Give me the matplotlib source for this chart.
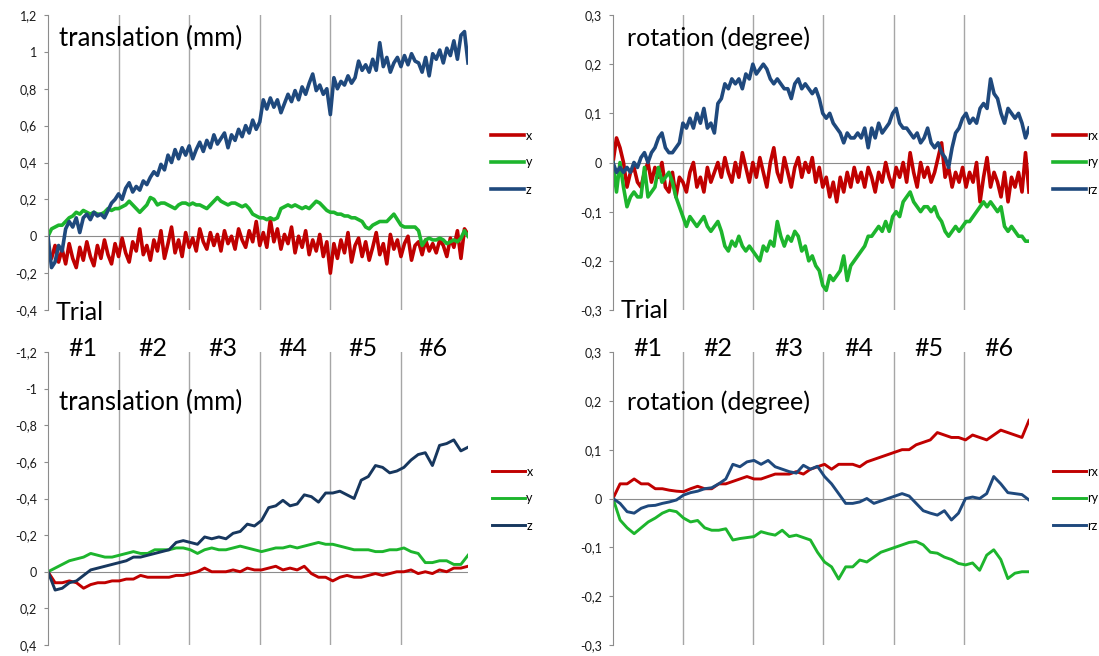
import numpy as np
import matplotlib
matplotlib.use("Agg")
import matplotlib.pyplot as plt
from matplotlib.ticker import FuncFormatter, MultipleLocator

plt.rcParams["font.family"] = ["Lato", "DejaVu Sans"]

W, H = 1099, 656

# ---- data (x in units of one trial block) ----
# top-left: translation (mm), 120 samples over 0 .. 5.95
tl_x = [
    -0.08, -0.12, -0.05, -0.14, -0.07, -0.15, -0.04, -0.12, -0.17, -0.06,
    -0.13, -0.03, -0.11, -0.16, -0.05, -0.12, -0.02, -0.10, -0.15, -0.04,
    -0.11, -0.01, -0.09, -0.14, -0.03, -0.08, 0.04, -0.10, -0.05, -0.13,
    -0.02, -0.08, 0.03, -0.12, -0.04, 0.05, -0.09, -0.02, -0.11, 0.02,
    -0.06, -0.01, -0.08, 0.04, -0.03, -0.07, 0.02, -0.05, 0.01, -0.08,
    0.03, -0.04, 0.00, -0.07, 0.04, -0.02, -0.06, 0.03, -0.03, 0.08,
    -0.05, 0.02, -0.06, 0.09, -0.03, 0.04, -0.07, 0.01, -0.04, 0.05,
    -0.09, 0.00, -0.06, 0.03, -0.10, -0.02, -0.08, 0.01, -0.11, -0.03,
    -0.20, -0.04, -0.12, -0.02, -0.09, 0.02, -0.14, -0.05, -0.01, -0.11,
    -0.03, -0.13, -0.06, 0.02, -0.10, -0.04, -0.15, 0.01, -0.07, -0.02,
    -0.11, -0.04, 0.00, -0.13, -0.05, -0.03, -0.10, -0.02, -0.08, -0.04,
    -0.09, -0.02, -0.05, -0.11, -0.01, -0.06, 0.03, -0.12, 0.04, 0.01,
]
tl_y = [
    0.00, 0.04, 0.05, 0.06, 0.06, 0.08, 0.10, 0.11, 0.13, 0.12,
    0.14, 0.13, 0.12, 0.13, 0.12, 0.12, 0.13, 0.15, 0.14, 0.15,
    0.15, 0.16, 0.17, 0.19, 0.17, 0.15, 0.13, 0.15, 0.17, 0.21,
    0.20, 0.17, 0.18, 0.18, 0.17, 0.16, 0.15, 0.17, 0.18, 0.18,
    0.17, 0.18, 0.17, 0.17, 0.16, 0.15, 0.17, 0.19, 0.21, 0.19,
    0.18, 0.17, 0.18, 0.18, 0.17, 0.16, 0.17, 0.15, 0.12, 0.11,
    0.10, 0.10, 0.09, 0.10, 0.09, 0.10, 0.15, 0.16, 0.17, 0.16,
    0.17, 0.16, 0.15, 0.16, 0.15, 0.17, 0.19, 0.18, 0.16, 0.14,
    0.13, 0.13, 0.12, 0.12, 0.11, 0.11, 0.10, 0.10, 0.09, 0.08,
    0.05, 0.04, 0.06, 0.07, 0.08, 0.08, 0.08, 0.10, 0.12, 0.09,
    0.06, 0.05, 0.05, 0.05, 0.05, 0.03, -0.05, -0.02, -0.01, -0.02,
    -0.02, -0.01, -0.02, -0.04, -0.03, -0.02, -0.03, -0.01, 0.03, 0.00,
]
tl_z = [
    0.00, -0.17, -0.14, -0.05, -0.08, 0.04, 0.08, 0.05, 0.10, 0.02,
    0.10, 0.12, 0.09, 0.13, 0.11, 0.12, 0.10, 0.14, 0.18, 0.20,
    0.23, 0.20, 0.26, 0.29, 0.24, 0.27, 0.25, 0.30, 0.28, 0.32,
    0.35, 0.33, 0.39, 0.36, 0.44, 0.40, 0.47, 0.42, 0.48, 0.44,
    0.49, 0.42, 0.47, 0.51, 0.46, 0.52, 0.48, 0.55, 0.50, 0.53,
    0.56, 0.48, 0.55, 0.52, 0.58, 0.54, 0.60, 0.56, 0.63, 0.58,
    0.62, 0.74, 0.69, 0.75, 0.70, 0.74, 0.67, 0.72, 0.77, 0.73,
    0.79, 0.74, 0.81, 0.77, 0.83, 0.88, 0.79, 0.82, 0.77, 0.80,
    0.66, 0.86, 0.80, 0.84, 0.82, 0.87, 0.83, 0.86, 0.95, 0.90,
    0.93, 0.89, 0.96, 0.90, 1.05, 0.92, 0.97, 0.89, 0.94, 0.97,
    0.92, 0.98, 0.93, 0.99, 0.95, 0.94, 0.89, 0.97, 0.87, 0.99,
    0.96, 1.01, 0.94, 1.02, 0.98, 1.06, 0.96, 1.09, 1.11, 0.94,
]

# top-right: rotation (degree), 120 samples over 0 .. 5.93
tr_rx = [
    0.00, 0.05, 0.03, 0.00, -0.05, -0.02, -0.01, -0.04, -0.05, -0.02,
    0.00, -0.04, -0.01, -0.03, 0.00, -0.05, -0.06, -0.02, -0.07, -0.03,
    -0.04, -0.06, -0.02, 0.00, -0.05, -0.03, -0.06, -0.01, -0.04, -0.02,
    0.00, -0.03, 0.01, -0.02, -0.04, 0.00, -0.03, 0.02, -0.01, -0.04,
    0.00, -0.03, 0.01, -0.02, -0.05, 0.00, 0.03, -0.02, -0.04, 0.01,
    -0.02, -0.05, -0.01, 0.01, -0.03, 0.00, -0.02, 0.01, -0.04, -0.01,
    -0.05, -0.03, -0.07, -0.04, -0.08, -0.03, -0.06, -0.02, -0.05, -0.01,
    -0.04, -0.02, -0.05, -0.01, -0.03, -0.06, -0.02, -0.04, 0.00, -0.03,
    -0.05, -0.01, -0.03, 0.00, -0.04, 0.02, -0.02, -0.05, 0.00, -0.03,
    -0.01, -0.04, -0.02, 0.01, 0.04, -0.03, -0.01, -0.05, -0.02, -0.04,
    -0.01, -0.05, -0.02, -0.04, 0.00, -0.08, -0.03, 0.01, -0.05, -0.02,
    -0.04, -0.07, -0.02, -0.08, -0.03, -0.05, -0.02, -0.06, 0.02, -0.06,
]
tr_ry = [
    0.00, -0.06, 0.00, -0.05, -0.09, -0.07, -0.06, -0.07, -0.07, -0.01,
    -0.07, -0.06, -0.05, -0.01, -0.04, -0.03, -0.02, -0.04, -0.07, -0.09,
    -0.11, -0.13, -0.11, -0.12, -0.13, -0.12, -0.11, -0.13, -0.14, -0.13,
    -0.12, -0.14, -0.17, -0.18, -0.16, -0.17, -0.15, -0.17, -0.18, -0.17,
    -0.18, -0.19, -0.20, -0.17, -0.18, -0.16, -0.17, -0.12, -0.15, -0.17,
    -0.15, -0.16, -0.14, -0.15, -0.18, -0.17, -0.20, -0.19, -0.21, -0.22,
    -0.25, -0.26, -0.23, -0.24, -0.23, -0.22, -0.19, -0.24, -0.21, -0.20,
    -0.19, -0.18, -0.17, -0.15, -0.15, -0.14, -0.13, -0.14, -0.12, -0.14,
    -0.11, -0.10, -0.11, -0.08, -0.07, -0.06, -0.08, -0.09, -0.10, -0.09,
    -0.09, -0.10, -0.09, -0.11, -0.12, -0.14, -0.15, -0.14, -0.13, -0.14,
    -0.13, -0.12, -0.12, -0.11, -0.10, -0.09, -0.08, -0.09, -0.08, -0.09,
    -0.10, -0.09, -0.13, -0.14, -0.13, -0.14, -0.15, -0.15, -0.16, -0.16,
]
tr_rz = [
    0.00, -0.02, -0.01, -0.02, -0.01, -0.02, 0.00, -0.01, 0.01, 0.02,
    0.00, 0.02, 0.03, 0.05, 0.06, 0.03, 0.02, 0.02, 0.03, 0.04,
    0.08, 0.07, 0.09, 0.07, 0.10, 0.08, 0.11, 0.07, 0.08, 0.06,
    0.12, 0.13, 0.16, 0.15, 0.17, 0.16, 0.17, 0.15, 0.18, 0.17,
    0.20, 0.18, 0.19, 0.20, 0.19, 0.17, 0.16, 0.17, 0.16, 0.15,
    0.15, 0.13, 0.16, 0.17, 0.15, 0.16, 0.15, 0.14, 0.15, 0.13,
    0.10, 0.09, 0.10, 0.08, 0.07, 0.06, 0.04, 0.06, 0.05, 0.05,
    0.06, 0.05, 0.07, 0.03, 0.07, 0.05, 0.08, 0.06, 0.07, 0.08,
    0.10, 0.11, 0.08, 0.07, 0.07, 0.06, 0.05, 0.06, 0.04, 0.05,
    0.07, 0.04, 0.03, 0.04, 0.02, 0.01, -0.01, 0.03, 0.06, 0.07,
    0.09, 0.10, 0.08, 0.09, 0.08, 0.11, 0.12, 0.11, 0.17, 0.14,
    0.13, 0.10, 0.08, 0.11, 0.10, 0.09, 0.10, 0.08, 0.05, 0.07,
]

# bottom-left: translation (mm), inverted axis, 60 samples over 0 .. 5.95
bl_x = [
    0.00, 0.06, 0.06, 0.05, 0.06, 0.09, 0.07, 0.06, 0.06, 0.05,
    0.05, 0.04, 0.04, 0.02, 0.03, 0.03, 0.03, 0.03, 0.02, 0.02,
    0.01, 0.00, -0.02, 0.00, 0.00, 0.00, -0.01, 0.00, -0.02, -0.01,
    -0.01, -0.02, -0.03, -0.01, -0.02, -0.01, -0.03, 0.01, 0.03, 0.03,
    0.05, 0.03, 0.02, 0.03, 0.03, 0.02, 0.01, 0.02, 0.01, 0.00,
    0.00, -0.01, 0.01, 0.00, 0.01, -0.01, 0.00, -0.02, -0.02, -0.03,
]
bl_y = [
    0.00, -0.02, -0.04, -0.06, -0.07, -0.08, -0.10, -0.09, -0.08, -0.08,
    -0.09, -0.10, -0.11, -0.10, -0.10, -0.12, -0.12, -0.12, -0.13, -0.13,
    -0.12, -0.10, -0.12, -0.13, -0.12, -0.12, -0.13, -0.14, -0.13, -0.12,
    -0.11, -0.12, -0.13, -0.13, -0.14, -0.13, -0.14, -0.15, -0.16, -0.15,
    -0.15, -0.14, -0.13, -0.12, -0.12, -0.12, -0.11, -0.11, -0.12, -0.12,
    -0.13, -0.11, -0.10, -0.05, -0.05, -0.06, -0.06, -0.04, -0.04, -0.09,
]
bl_z = [
    0.00, 0.10, 0.09, 0.06, 0.05, 0.02, -0.01, -0.02, -0.03, -0.04,
    -0.05, -0.06, -0.08, -0.08, -0.09, -0.10, -0.11, -0.12, -0.16, -0.17,
    -0.16, -0.15, -0.19, -0.18, -0.19, -0.18, -0.21, -0.22, -0.26, -0.25,
    -0.28, -0.35, -0.36, -0.39, -0.36, -0.37, -0.42, -0.41, -0.38, -0.43,
    -0.43, -0.44, -0.42, -0.40, -0.50, -0.52, -0.58, -0.57, -0.54, -0.55,
    -0.57, -0.61, -0.64, -0.65, -0.58, -0.69, -0.70, -0.72, -0.66, -0.68,
]

# bottom-right: rotation (degree), 60 samples over 0 .. 5.93
br_rx = [
    0.00, 0.03, 0.03, 0.04, 0.03, 0.03, 0.02, 0.02, 0.017, 0.015,
    0.014, 0.02, 0.025, 0.02, 0.02, 0.03, 0.03, 0.035, 0.04, 0.045,
    0.04, 0.04, 0.045, 0.05, 0.05, 0.05, 0.055, 0.05, 0.06, 0.065,
    0.07, 0.06, 0.07, 0.07, 0.07, 0.065, 0.075, 0.08, 0.085, 0.09,
    0.095, 0.10, 0.10, 0.11, 0.115, 0.12, 0.135, 0.13, 0.125, 0.125,
    0.12, 0.13, 0.125, 0.12, 0.13, 0.14, 0.135, 0.13, 0.125, 0.16,
]
br_ry = [
    0.00, -0.044, -0.06, -0.072, -0.06, -0.048, -0.04, -0.03, -0.024, -0.027,
    -0.04, -0.048, -0.045, -0.06, -0.065, -0.065, -0.062, -0.085, -0.082, -0.08,
    -0.078, -0.068, -0.072, -0.075, -0.065, -0.078, -0.075, -0.08, -0.085, -0.11,
    -0.13, -0.14, -0.165, -0.14, -0.14, -0.126, -0.13, -0.12, -0.11, -0.105,
    -0.10, -0.095, -0.09, -0.088, -0.095, -0.11, -0.112, -0.12, -0.125, -0.133,
    -0.136, -0.132, -0.147, -0.116, -0.105, -0.125, -0.164, -0.153, -0.15, -0.15,
]
br_rz = [
    0.00, -0.01, -0.027, -0.03, -0.02, -0.015, -0.014, -0.01, -0.007, -0.003,
    0.007, 0.012, 0.015, 0.02, 0.022, 0.03, 0.04, 0.07, 0.065, 0.075,
    0.078, 0.07, 0.078, 0.065, 0.06, 0.055, 0.052, 0.068, 0.06, 0.066,
    0.045, 0.03, 0.01, -0.01, -0.01, -0.007, 0.00, -0.01, -0.005, 0.00,
    0.005, 0.01, 0.005, -0.01, -0.025, -0.03, -0.034, -0.025, -0.044, -0.03,
    0.00, 0.003, 0.00, 0.01, 0.045, 0.03, 0.012, 0.01, 0.008, -0.003,
]

trials = ["#1", "#2", "#3", "#4", "#5", "#6"]
trans_labels = ["x", "y", "z"]
rot_labels = ["rx", "ry", "rz"]

RED = "#C00000"
GREEN = "#1DB52D"
BLUE = "#1F497D"
NAVY = "#17375E"
AXGRAY = "#8C8C8C"


def comma_fmt(v, _pos):
    v = round(v, 3)
    if v == 0:
        return "0"
    return f"{v:g}".replace(".", ",")


def make_ax(left, top, right, bottom):
    # pixel box -> figure fraction
    return fig.add_axes([left / W, 1 - bottom / H, (right - left) / W, (bottom - top) / H])


def style(ax, xmax, ylim, step):
    ax.set_xlim(0, xmax)
    ax.set_ylim(*ylim)
    for s in ["top", "right", "bottom"]:
        ax.spines[s].set_visible(False)
    ax.spines["left"].set_color(AXGRAY)
    ax.spines["left"].set_linewidth(0.8)
    ax.set_xticks([])
    ax.yaxis.set_major_locator(MultipleLocator(step))
    ax.yaxis.set_major_formatter(FuncFormatter(comma_fmt))
    ax.tick_params(axis="y", direction="out", length=3, width=0.8, color=AXGRAY,
                   labelsize=9, pad=5, labelcolor="#1a1a1a")
    for g in range(1, 6):
        ax.axvline(g, color="#A6A6A6", lw=1.0, zorder=0)
    ax.axhline(0, color=AXGRAY, lw=0.8, zorder=1)


def legend(ax, x_anchor):
    ax.legend(loc="center left", bbox_to_anchor=(x_anchor, 0.5), frameon=False,
              fontsize=9, handlelength=2.6, handletextpad=0.15, labelspacing=1.2,
              borderpad=0, borderaxespad=0)


fig = plt.figure(figsize=(W / 100, H / 100), dpi=100)

# top-left
ax = make_ax(48, 15, 468, 310)
xs = np.linspace(0, 5.95, len(tl_x))
ax.plot(xs, tl_x, color=RED, lw=2.6, label=trans_labels[0])
ax.plot(xs, tl_y, color=GREEN, lw=2.6, label=trans_labels[1])
ax.plot(xs, tl_z, color=BLUE, lw=2.6, label=trans_labels[2])
style(ax, 5.95, (-0.4, 1.2), 0.2)
legend(ax, (491 - 48) / 420)

# top-right
ax = make_ax(613, 15, 1029, 310)
xs = np.linspace(0, 5.93, len(tr_rx))
ax.plot(xs, tr_rx, color=RED, lw=2.6, label=rot_labels[0])
ax.plot(xs, tr_ry, color=GREEN, lw=2.6, label=rot_labels[1])
ax.plot(xs, tr_rz, color=BLUE, lw=2.6, label=rot_labels[2])
style(ax, 5.93, (-0.3, 0.3), 0.1)
legend(ax, (1053 - 613) / 416)

# bottom-left (inverted)
ax = make_ax(48, 352, 468, 645)
xs = np.linspace(0, 5.95, len(bl_x))
ax.plot(xs, bl_x, color=RED, lw=2.1, label=trans_labels[0])
ax.plot(xs, bl_y, color=GREEN, lw=2.1, label=trans_labels[1])
ax.plot(xs, bl_z, color=NAVY, lw=2.1, label=trans_labels[2])
style(ax, 5.95, (0.4, -1.2), 0.2)
legend(ax, (492 - 48) / 420)

# bottom-right
ax = make_ax(613, 352, 1029, 645)
xs = np.linspace(0, 5.93, len(br_rx))
ax.plot(xs, br_rx, color=RED, lw=2.1, label=rot_labels[0])
ax.plot(xs, br_ry, color=GREEN, lw=2.1, label=rot_labels[1])
ax.plot(xs, br_rz, color=BLUE, lw=2.1, label=rot_labels[2])
style(ax, 5.93, (-0.3, 0.3), 0.1)
legend(ax, (1053 - 613) / 416)


def ftext(x, y, s, size, **kw):
    fig.text(x / W, 1 - y / H, s, fontsize=size, va="center", ha="left", color="black", **kw)


ftext(59, 38, "translation (mm)", 18.5)
ftext(627, 38, "rotation (degree)", 18)
ftext(59, 402, "translation (mm)", 18.5)
ftext(627, 402, "rotation (degree)", 18)
ftext(56, 313, "Trial", 18)
ftext(621, 311, "Trial", 18)

# trial numbers centred in each block
for x0, step in [(48, 70.0), (613, 70.2)]:
    for i, lab in enumerate(trials):
        fig.text((x0 + step * (i + 0.5)) / W, 1 - 348 / H, lab, fontsize=18,
                 ha="center", va="center")

fig.savefig("out.png", dpi=100)
